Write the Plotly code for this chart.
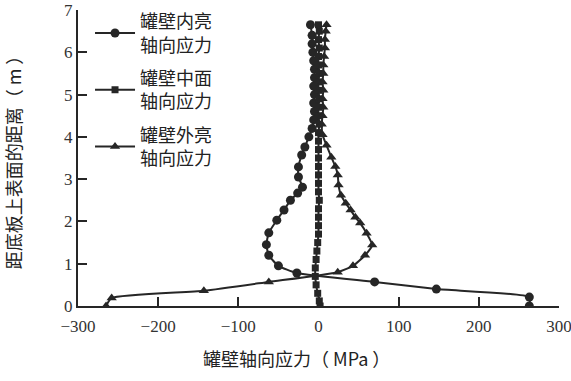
import plotly.graph_objects as go

# ---- data ----
inner_x = [263, 263, 147, 70, -27, -50, -62, -65, -62, -52, -43, -35, -26, -20, -25, -25,
           -21, -17, -12, -8, -6, -5, -6, -5, -6, -5, -5, -6, -7, -8, -8, -10]
inner_y = [0.0, 0.21, 0.40, 0.57, 0.78, 0.95, 1.2, 1.45, 1.73, 2.03, 2.27, 2.5, 2.67, 2.81, 3.05, 3.29,
           3.57, 3.76, 4.0, 4.2, 4.4, 4.6, 4.8, 5.0, 5.2, 5.4, 5.6, 5.8, 6.0, 6.2, 6.4, 6.65]

middle_x = [2, 1, -1, -3, -4, -4, -3, -2, -1, 0, 0, 0, 0, 1, 0, 0, 0, 0, 0, 0, 0, 0,
            1, 0, 0, 1, 0, 0, 1, 0, 0, 1, 0, 1, 0]
middle_y = [0.0, 0.12, 0.3, 0.5, 0.7, 0.9, 1.1, 1.3, 1.5, 1.7, 1.9, 2.1, 2.3, 2.5, 2.7, 2.9, 3.1, 3.3,
            3.5, 3.7, 3.9, 4.1, 4.3, 4.5, 4.7, 4.9, 5.1, 5.3, 5.5, 5.7, 5.9, 6.1, 6.3, 6.5, 6.65]

outer_x = [-265, -258, -143, -62, 24, 43, 58, 67, 60, 52, 46, 40, 34, 28, 25, 24, 21, 16,
           10, 5, 4, 5, 6, 5, 6, 5, 6, 6, 7, 8, 8, 9, 10]
outer_y = [0.0, 0.19, 0.36, 0.57, 0.8, 0.95, 1.2, 1.44, 1.72, 1.96, 2.1, 2.27, 2.43, 2.62, 2.86, 3.1, 3.3, 3.52,
           3.8, 4.05, 4.3, 4.5, 4.7, 4.9, 5.1, 5.3, 5.5, 5.7, 5.9, 6.1, 6.3, 6.5, 6.65]

series_names = ["罐壁内亮<br>轴向应力", "罐壁中面<br>轴向应力", "罐壁外亮<br>轴向应力"]

x_ticks = [-300, -200, -100, 0, 100, 200, 300]
x_tick_text = ["−300", "−200", "−100", "0", "100", "200", "300"]
y_ticks = [0, 1, 2, 3, 4, 5, 6, 7]

x_title = "罐壁轴向应力（ MPa ）"
y_title = "距底板上表面的距离（ m ）"

# ---- figure ----
ink = "#262626"
cjk = "Noto Sans CJK SC"
serif = "Liberation Serif"

fig = go.Figure()
for i, (xs, ys, name, sym, sz) in enumerate([
    (inner_x, inner_y, series_names[0], "circle", 9),
    (middle_x, middle_y, series_names[1], "square", 7),
    (outer_x, outer_y, series_names[2], "triangle-up", 9),
]):
    fig.add_trace(go.Scatter(
        x=xs, y=ys, name=name, mode="lines+markers", legendgroup=f"g{i}",
        line=dict(color=ink, width=2, shape="spline", smoothing=0.5),
        marker=dict(symbol=sym, size=sz, color=ink),
    ))

axis_common = dict(
    showline=True, linecolor=ink, linewidth=2, ticks="inside", ticklen=9,
    tickwidth=1.5, tickcolor=ink, showgrid=False, zeroline=False,
    tickfont=dict(family=serif, size=17, color="#333"),
    ticklabeloverflow="allow", automargin=False,
)

fig.update_layout(
    width=571, height=381,
    margin=dict(l=78, r=12, t=10, b=75, autoexpand=False),
    paper_bgcolor="white", plot_bgcolor="white",
    xaxis=dict(range=[-300, 300], tickvals=x_ticks, ticktext=x_tick_text,
               ticklabelstandoff=4, **axis_common),
    yaxis=dict(range=[0, 7], tickvals=y_ticks,
               title=dict(text=y_title, font=dict(family=cjk, size=18, color="#222"), standoff=38),
               **axis_common),
    legend=dict(x=0.025, y=0.992, xanchor="left", yanchor="top", yref="container",
                bgcolor="rgba(0,0,0,0)", font=dict(family=cjk, size=18, color="#222"),
                itemwidth=40, tracegroupgap=7),
    showlegend=True,
    annotations=[dict(text=x_title, xref="paper", yref="paper", x=0.455, y=-0.176,
                      xanchor="center", yanchor="middle", showarrow=False,
                      font=dict(family=cjk, size=18, color="#222"))],
)

fig.write_html("out.html")
